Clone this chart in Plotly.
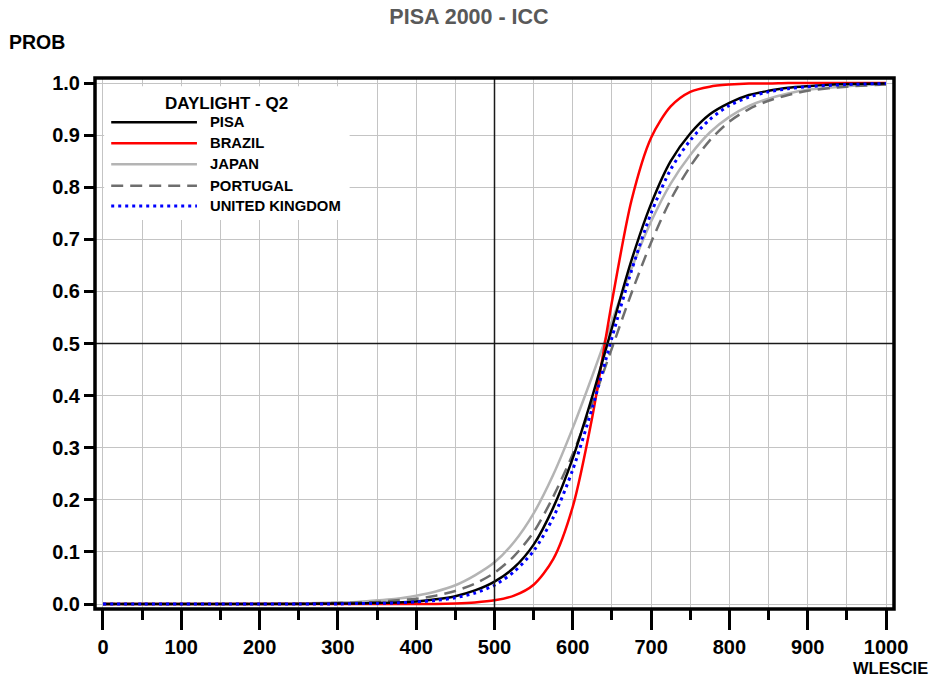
import plotly.graph_objects as go

# ---- data ----
wlescie = [0, 50, 100, 150, 200, 250, 300, 325, 350, 375, 400, 425, 450, 475, 500,
           525, 550, 575, 600, 625, 650, 675, 700, 725, 750, 775, 800, 825, 850,
           875, 900, 950, 1000]

prob_pisa = [0.000, 0.000, 0.000, 0.000, 0.000, 0.000, 0.001, 0.001, 0.002, 0.003,
             0.005, 0.009, 0.015, 0.026, 0.043, 0.070, 0.114, 0.185, 0.280, 0.399,
             0.530, 0.660, 0.768, 0.850, 0.903, 0.940, 0.962, 0.977, 0.985, 0.991,
             0.994, 0.998, 0.999]

prob_brazil = [0.000, 0.000, 0.000, 0.000, 0.000, 0.000, 0.000, 0.000, 0.000, 0.000,
               0.000, 0.000, 0.001, 0.003, 0.007, 0.016, 0.037, 0.086, 0.187, 0.360,
               0.580, 0.775, 0.895, 0.955, 0.983, 0.993, 0.997, 0.999, 0.999, 1.000,
               1.000, 1.000, 1.000]

prob_japan = [0.000, 0.000, 0.000, 0.000, 0.001, 0.001, 0.003, 0.004, 0.007, 0.010,
              0.016, 0.024, 0.036, 0.055, 0.080, 0.119, 0.174, 0.248, 0.338, 0.438,
              0.543, 0.644, 0.734, 0.807, 0.862, 0.905, 0.935, 0.956, 0.970, 0.980,
              0.987, 0.994, 0.998]

prob_portugal = [0.000, 0.000, 0.000, 0.000, 0.000, 0.001, 0.002, 0.003, 0.004, 0.007,
                 0.010, 0.016, 0.025, 0.039, 0.060, 0.092, 0.138, 0.206, 0.288, 0.386,
                 0.491, 0.597, 0.694, 0.776, 0.840, 0.890, 0.926, 0.950, 0.966, 0.977,
                 0.985, 0.993, 0.997]

prob_uk = [0.000, 0.000, 0.000, 0.000, 0.000, 0.000, 0.000, 0.001, 0.001, 0.002,
           0.004, 0.007, 0.012, 0.021, 0.036, 0.062, 0.102, 0.166, 0.258, 0.377,
           0.511, 0.640, 0.750, 0.834, 0.890, 0.930, 0.957, 0.973, 0.983, 0.989,
           0.993, 0.997, 0.999]

series_names = ["PISA", "BRAZIL", "JAPAN", "PORTUGAL", "UNITED KINGDOM"]
series_values = [prob_pisa, prob_brazil, prob_japan, prob_portugal, prob_uk]
legend_title = "DAYLIGHT - Q2"

x_ticks = list(range(0, 1001, 100))
y_ticks = [round(i * 0.1, 1) for i in range(11)]

# ---- styles ----
styles = {
    "PISA": dict(color="#000000", width=2.5, dash="solid"),
    "BRAZIL": dict(color="#ff0000", width=2.5, dash="solid"),
    "JAPAN": dict(color="#b4b4b4", width=2.5, dash="solid"),
    "PORTUGAL": dict(color="#6e6e6e", width=2.5, dash="12px,7px"),
    "UNITED KINGDOM": dict(color="#0000ff", width=3, dash="3px,4px"),
}

FONT = "Arial, Liberation Sans, sans-serif"

fig = go.Figure()

draw_order = ["JAPAN", "PORTUGAL", "BRAZIL", "PISA", "UNITED KINGDOM"]
for name in draw_order:
    vals = series_values[series_names.index(name)]
    st = styles[name]
    fig.add_trace(go.Scatter(
        x=wlescie, y=vals, mode="lines", name=name,
        line=dict(color=st["color"], width=st["width"], dash=st["dash"],
                  shape="spline", smoothing=0.8),
        showlegend=False, hoverinfo="skip",
    ))

shapes = []
annotations = []

# center reference lines
shapes.append(dict(type="line", xref="x", yref="paper", x0=500, x1=500, y0=0, y1=1,
                   line=dict(color="#1a1a1a", width=1.5), layer="above"))
shapes.append(dict(type="line", xref="paper", yref="y", x0=0, x1=1, y0=0.5, y1=0.5,
                   line=dict(color="#1a1a1a", width=1.5), layer="above"))

# legend box (white, hides gridlines)
shapes.append(dict(type="rect", xref="x", yref="y", x0=1.5, x1=315, y0=0.737, y1=0.994,
                   fillcolor="white", line=dict(width=0), layer="between"))

annotations.append(dict(xref="x", yref="y", x=157.5, y=0.961, text=legend_title,
                        showarrow=False, xanchor="center", yanchor="middle",
                        font=dict(family=FONT, size=17, color="#000000", weight="bold")))
row_y = [0.9246, 0.8842, 0.844, 0.803, 0.764]
for name, yy in zip(series_names, row_y):
    st = styles[name]
    shapes.append(dict(type="line", xref="x", yref="y", x0=10.5, x1=120, y0=yy, y1=yy,
                       line=dict(color=st["color"], width=st["width"], dash=st["dash"]),
                       layer="above"))
    annotations.append(dict(xref="x", yref="y", x=134, y=yy, text=name, showarrow=False,
                            xanchor="left", yanchor="middle",
                            font=dict(family=FONT, size=14.8, color="#000000", weight="bold")))

# frame
shapes.append(dict(type="rect", xref="paper", yref="paper", x0=0, x1=1, y0=0, y1=1,
                   line=dict(color="#000000", width=3.5), layer="above"))

# axis titles
annotations.append(dict(xref="paper", yref="paper", x=(7 - 95) / 799, y=1 + 36 / 531,
                        text="PROB", showarrow=False, xanchor="left", yanchor="middle",
                        font=dict(family=FONT, size=19.5, color="#000000", weight="bold")))
annotations.append(dict(xref="paper", yref="paper", x=(930 - 95) / 799, y=-(668 - 609) / 531,
                        text="WLESCIE", showarrow=False, xanchor="right", yanchor="middle",
                        font=dict(family=FONT, size=16.5, color="#000000", weight="bold")))

fig.update_layout(
    width=932, height=679,
    margin=dict(l=95, r=38, t=78, b=70),
    paper_bgcolor="white", plot_bgcolor="white",
    title=dict(text="PISA 2000 - ICC", x=469 / 932, xanchor="center", y=1 - 16 / 679,
               yanchor="middle",
               font=dict(family=FONT, size=21.5, color="#595959", weight="bold")),
    shapes=shapes, annotations=annotations, showlegend=False,
)

fig.update_xaxes(
    range=[-10.2, 1010.2], tickmode="array", tickvals=x_ticks,
    ticktext=[str(v) for v in x_ticks],
    ticks="outside", ticklen=20, tickwidth=3, tickcolor="#000000",
    tickfont=dict(family=FONT, size=20, color="#000000", weight="bold"),
    showgrid=True, gridcolor="#c4c4c4", gridwidth=1.3,
    minor=dict(dtick=50, tick0=0, ticks="outside", ticklen=10, tickwidth=3,
               tickcolor="#000000", showgrid=True, gridcolor="#c4c4c4", gridwidth=1.3),
    showline=False, zeroline=False,
)
fig.update_yaxes(
    range=[-0.0096, 1.0096], tickmode="array", tickvals=y_ticks,
    ticktext=[f"{v:.1f}" for v in y_ticks],
    ticks="outside", ticklen=10, tickwidth=3, tickcolor="#000000",
    tickfont=dict(family=FONT, size=20, color="#000000", weight="bold"),
    showgrid=True, gridcolor="#c4c4c4", gridwidth=1.3,
    showline=False, zeroline=False,
)

fig.write_html("out.html", config={"displayModeBar": False},
               post_script="document.body.style.margin='0px';")
